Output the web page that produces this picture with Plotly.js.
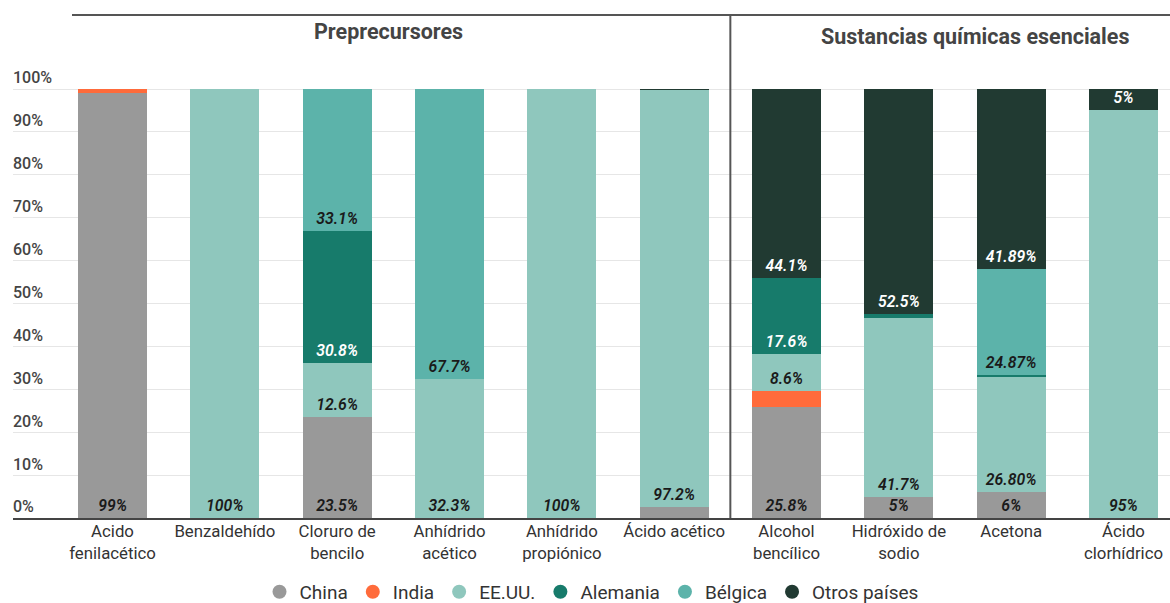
<!DOCTYPE html>
<html>
<head>
<meta charset="utf-8">
<script src="https://cdn.plot.ly/plotly-3.0.1.min.js"></script>
<style>html,body{margin:0;padding:0;background:#fff;}#chart{width:1170px;height:603px;}</style>
</head>
<body>
<div id="chart"></div>
<script>
const categories = ['Acido fenilacético','Benzaldehído','Cloruro de bencilo','Anhídrido acético','Anhídrido propiónico','Ácido acético','Alcohol bencílico','Hidróxido de sodio','Acetona','Ácido clorhídrico'];
const tickLabels = ['Acido<br>fenilacético','Benzaldehído','Cloruro de<br>bencilo','Anhídrido<br>acético','Anhídrido<br>propiónico','Ácido acético','Alcohol<br>bencílico','Hidróxido de<br>sodio','Acetona','Ácido<br>clorhídrico'];

const china    = [99, 0, 23.5, 0, 0, 2.6, 25.8, 5, 6, 0];
const india    = [1, 0, 0, 0, 0, 0, 3.9, 0, 0, 0];
const eeuu     = [0, 100, 12.6, 32.3, 100, 97.2, 8.6, 41.7, 26.80, 95];
const alemania = [0, 0, 30.8, 0, 0, 0, 17.6, 0.8, 0.44, 0];
const belgica  = [0, 0, 33.1, 67.7, 0, 0, 0, 0, 24.87, 0];
const otros    = [0, 0, 0, 0, 0, 0.2, 44.1, 52.5, 41.89, 5];

const chinaText    = ['99%', '', '23.5%', '', '', '', '25.8%', '5%', '6%', ''];
const indiaText    = ['', '', '', '', '', '', '', '', '', ''];
const eeuuText     = ['', '100%', '12.6%', '32.3%', '100%', '97.2%', '8.6%', '41.7%', '26.80%', '95%'];
const alemaniaText = ['', '', '30.8%', '', '', '', '17.6%', '', '', ''];
const belgicaText  = ['', '', '33.1%', '67.7%', '', '', '', '', '24.87%', ''];
const otrosText    = ['', '', '', '', '', '', '44.1%', '52.5%', '41.89%', '5%'];

const yTickVals = [0, 10, 20, 30, 40, 50, 60, 70, 80, 90, 100];
const yTickText = ['0%', '10%', '20%', '30%', '40%', '50%', '60%', '70%', '80%', '90%', '100%'];

const seriesNames = ['China', 'India', 'EE.UU.', 'Alemania', 'Bélgica', 'Otros países'];
const seriesValues = [china, india, eeuu, alemania, belgica, otros];
const seriesTexts = [chinaText, indiaText, eeuuText, alemaniaText, belgicaText, otrosText];
const colors = ['#999999', '#FF6B3B', '#8FC7BD', '#177B6B', '#5CB3AA', '#213A32'];
const textColors = ['#1a1a1a', '#1a1a1a', '#1a1a1a', '#ffffff', '#1a1a1a', '#ffffff'];

const FONT = 'Roboto, "Open Sans", sans-serif';

const traces = [];
seriesNames.forEach((name, i) => {
  traces.push({
    type: 'bar',
    name: name,
    x: categories,
    y: seriesValues[i],
    text: seriesTexts[i],
    textposition: 'inside',
    insidetextanchor: 'start',
    textangle: 0,
    constraintext: 'none',
    textfont: {family: FONT, size: 15.8, color: textColors[i], style: 'italic', weight: 600},
    marker: {color: colors[i], line: {width: 0}},
    showlegend: false,
    hoverinfo: 'skip'
  });
});
seriesNames.forEach((name, i) => {
  traces.push({
    type: 'scatter',
    mode: 'markers',
    name: name,
    x: [null],
    y: [null],
    marker: {color: colors[i], size: 14, symbol: 'circle'},
    showlegend: true,
    hoverinfo: 'skip'
  });
});

const layout = {
  width: 1170,
  height: 603,
  margin: {l: 13, r: 0, t: 59, b: 85, autoexpand: false},
  paper_bgcolor: '#ffffff',
  plot_bgcolor: '#ffffff',
  barmode: 'stack',
  bargap: 0.386,
  font: {family: FONT, color: '#333333'},
  xaxis: {
    type: 'category',
    range: [-0.886, 9.414],
    tickvals: categories,
    ticktext: tickLabels,
    tickfont: {family: FONT, size: 16.8, color: '#333333'},
    ticklabelstandoff: -3,
    ticks: '',
    showgrid: false,
    showline: true,
    linecolor: '#444444',
    linewidth: 2,
    fixedrange: true
  },
  yaxis: {
    range: [0, 107],
    tickvals: yTickVals,
    ticktext: yTickText,
    ticklabelposition: 'inside top',
    ticklabelstandoff: -3,
    tickfont: {family: FONT, size: 16, color: '#444444', weight: 500},
    ticks: '',
    showgrid: true,
    gridcolor: '#e6e6e6',
    gridwidth: 1,
    zeroline: false,
    showline: false,
    fixedrange: true
  },
  legend: {
    orientation: 'h',
    traceorder: 'normal',
    x: 0.5,
    xanchor: 'center',
    y: -0.161,
    yanchor: 'middle',
    borderwidth: 0,
    font: {family: FONT, size: 19, color: '#333333'},
    itemclick: false,
    itemdoubleclick: false
  },
  shapes: [
    {type: 'line', xref: 'paper', yref: 'paper', x0: 0.051, x1: 1, y0: 1.0959, y1: 1.0959, line: {color: '#555555', width: 2}},
    {type: 'line', xref: 'x', yref: 'paper', x0: 5.5, x1: 5.5, y0: 0, y1: 1.0959, line: {color: '#555555', width: 2}}
  ],
  annotations: [
    {text: 'Preprecursores', xref: 'x', yref: 'paper', x: 2.46, y: 1.061, xanchor: 'center', yanchor: 'middle', showarrow: false,
     font: {family: FONT, size: 21.5, color: '#444444', weight: 700}},
    {text: 'Sustancias químicas esenciales', xref: 'x', yref: 'paper', x: 7.68, y: 1.050, xanchor: 'center', yanchor: 'middle', showarrow: false,
     font: {family: FONT, size: 21.5, color: '#444444', weight: 700}}
  ]
};

Plotly.newPlot('chart', traces, layout, {displayModeBar: false, staticPlot: true});
</script>
</body>
</html>
